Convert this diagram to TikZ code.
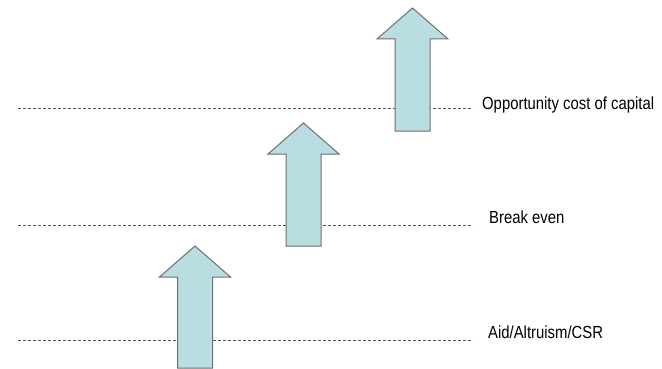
\documentclass[tikz,border=0pt]{standalone}
\usepackage{fontspec}
\setmainfont{Liberation Sans}
\definecolor{arrowfill}{RGB}{184,222,226}
\definecolor{arrowline}{RGB}{110,110,110}
\definecolor{dashline}{RGB}{85,85,85}
\begin{document}
\begin{tikzpicture}[x=1pt,y=-1pt,
  uparrow/.style={fill=arrowfill,draw=arrowline,line width=1pt,line join=miter},
  level/.style={draw=dashline,line width=0.8pt,dash pattern=on 3pt off 2pt},
  lab/.style={anchor=base west,inner sep=0pt,font=\fontsize{17.5}{20}\selectfont,xscale=0.85}]
\useasboundingbox (0,0) rectangle (662,369);
% dashed levels
\coordinate (l1s) at (18,108); \coordinate (l1e) at (473,108);
\coordinate (l2s) at (18,225); \coordinate (l2e) at (473,225);
\coordinate (l3s) at (18,340); \coordinate (l3e) at (473,340);
\draw[level] (l1s) -- (l1e);
\draw[level] (l2s) -- (l2e);
\draw[level] (l3s) -- (l3e);
% arrows: center x, tip y, bottom y
\foreach \cx/\ty/\by in {195/246/368, 303.5/123/246, 412.5/8/131}{
  \draw[uparrow] (\cx,\ty) -- (\cx+35.5,\ty+31) -- (\cx+17.5,\ty+31) -- (\cx+17.5,\by)
     -- (\cx-17.5,\by) -- (\cx-17.5,\ty+31) -- (\cx-35.5,\ty+31) -- cycle;
}
% labels
\node[lab] (occ) at (482,109.5) {Opportunity cost of capital};
\node[lab] (be) at (489,223.5) {Break even};
\node[lab] (aid) at (488,338) {Aid/Altruism/CSR};
\end{tikzpicture}
\end{document}
